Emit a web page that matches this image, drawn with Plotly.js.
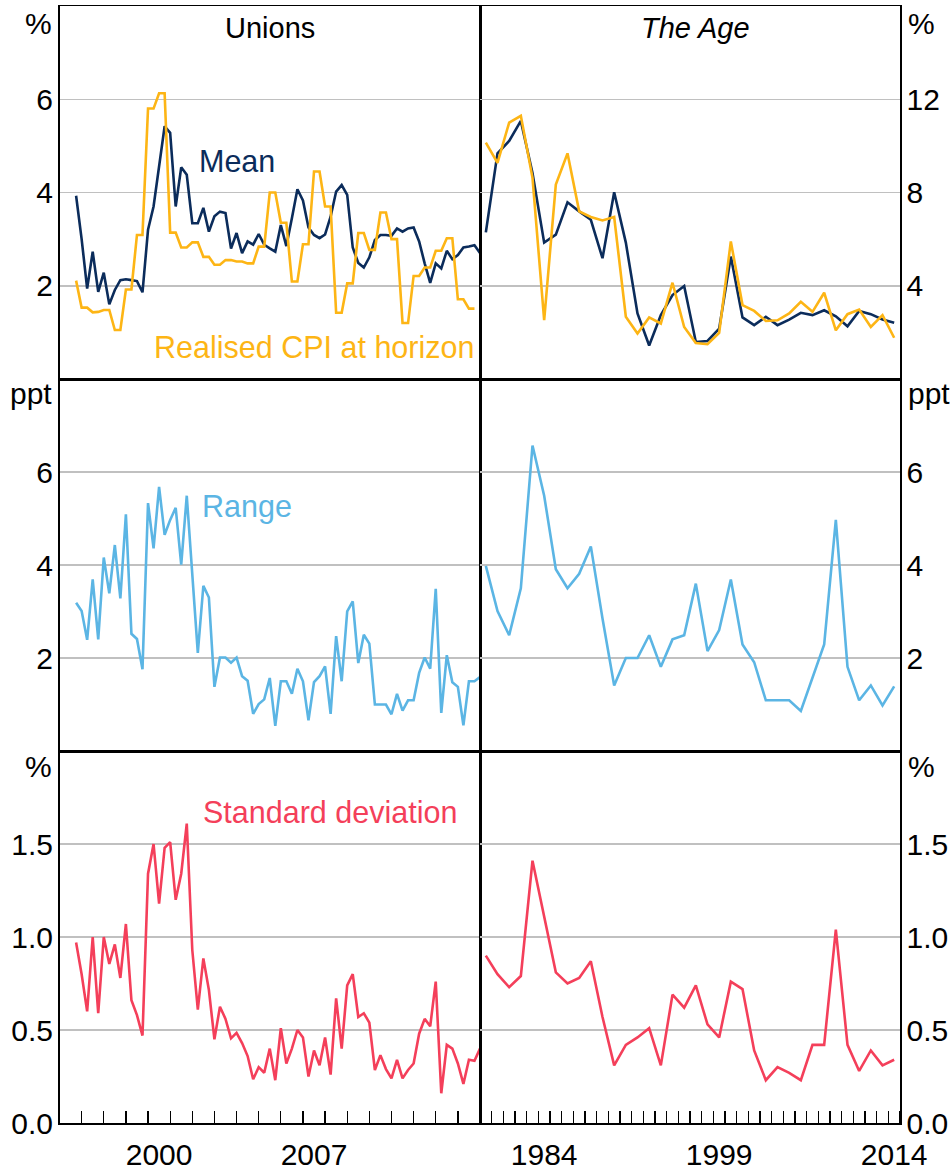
<!DOCTYPE html>
<html><head><meta charset="utf-8">
<script src="https://cdn.plot.ly/plotly-3.0.1.min.js"></script>
<style>html,body{margin:0;padding:0;background:#fff}#chart{width:952px;height:1169px}</style>
</head><body><div id="chart"></div>
<script>
// ---------- DATA ----------
// Unions: quarterly, first observation at end of Q3 1996
const unionsFirstQuarter = 1996.75;
const unionsMean = [3.93,3.0,1.94,2.73,1.87,2.28,1.60,1.91,2.12,2.14,2.12,2.10,1.86,3.20,3.70,4.60,5.42,5.28,3.70,4.54,
  4.38,3.34,3.34,3.67,3.16,3.49,3.59,3.56,2.80,3.13,2.70,2.95,2.88,3.11,2.88,2.80,2.73,3.30,2.85,3.45,
  4.07,3.83,3.25,3.09,3.02,3.10,3.48,4.02,4.16,3.95,2.82,2.49,2.39,2.61,2.98,3.09,3.09,3.07,3.23,3.16,
  3.23,3.25,2.95,2.48,2.06,2.48,2.37,2.75,2.57,2.66,2.82,2.84,2.87,2.70];
const unionsCPI = [2.11,1.53,1.53,1.43,1.44,1.48,1.48,1.05,1.05,1.92,1.92,3.09,3.09,5.80,5.80,6.13,6.13,3.14,3.14,2.82,
  2.82,2.93,2.93,2.62,2.62,2.45,2.45,2.55,2.55,2.52,2.52,2.48,2.48,2.84,2.84,4.00,4.00,3.35,3.35,2.09,
  2.09,2.89,2.89,4.45,4.45,3.70,3.70,1.42,1.42,2.05,2.05,3.13,3.13,2.77,2.77,3.57,3.57,3.00,3.00,1.20,
  1.20,2.21,2.21,2.39,2.39,2.75,2.75,3.02,3.02,1.71,1.71,1.51,1.51];
const unionsRange = [3.19,3.01,2.39,3.69,2.40,4.16,3.39,4.43,3.28,5.09,2.52,2.41,1.76,5.33,4.36,5.68,4.65,4.97,5.23,4.01,
  5.49,3.90,2.11,3.55,3.30,1.38,2.01,2.01,1.90,2.01,1.61,1.51,0.80,1.01,1.11,1.57,0.54,1.50,1.50,1.23,
  1.77,1.50,0.66,1.48,1.61,1.82,0.80,2.47,1.50,3.00,3.22,1.89,2.50,2.31,1.00,1.00,1.00,0.79,1.23,0.87,
  1.09,1.09,1.68,2.01,1.77,3.49,0.82,2.06,1.48,1.38,0.55,1.50,1.50,1.59];
const unionsStd = [0.97,0.80,0.60,1.00,0.59,1.00,0.855,0.96,0.78,1.07,0.66,0.58,0.47,1.34,1.50,1.18,1.48,1.51,1.20,1.34,
  1.61,0.93,0.61,0.885,0.715,0.45,0.625,0.56,0.455,0.485,0.43,0.36,0.235,0.30,0.27,0.40,0.23,0.51,0.32,0.40,
  0.50,0.46,0.25,0.39,0.31,0.46,0.26,0.67,0.40,0.74,0.80,0.57,0.59,0.54,0.285,0.365,0.29,0.24,0.34,0.24,
  0.285,0.32,0.48,0.56,0.52,0.76,0.16,0.42,0.40,0.32,0.21,0.34,0.335,0.40];

// The Age: annual
const ageYears = [1979,1980,1981,1982,1983,1984,1985,1986,1987,1988,1989,1990,1991,1992,1993,1994,1995,1996,
  1997,1998,1999,2000,2001,2002,2003,2004,2005,2006,2007,2008,2009,2010,2011,2012,2013,2014];
const ageMean = [6.29,9.68,10.21,11.07,8.84,5.85,6.19,7.58,7.19,6.83,5.18,8.01,5.85,2.81,1.44,2.74,3.60,3.99,
  1.59,1.63,2.16,5.25,2.64,2.31,2.67,2.31,2.55,2.84,2.74,2.95,2.69,2.26,2.92,2.78,2.55,2.41];
const ageCPI = [10.14,9.27,11.0,11.29,8.63,2.52,8.34,9.68,7.19,6.95,6.80,6.95,2.67,1.95,2.64,2.38,4.13,2.23,
  1.54,1.49,1.98,5.90,3.17,2.92,2.49,2.52,2.81,3.31,2.88,3.70,2.09,2.78,2.98,2.23,2.74,1.77];
const ageRange = [3.98,3.01,2.49,3.50,6.57,5.49,3.91,3.50,3.81,4.40,2.85,1.41,2.00,2.00,2.49,1.81,2.40,2.49,
  3.60,2.15,2.60,3.69,2.29,1.91,1.09,1.09,1.09,0.86,1.59,2.29,4.97,1.81,1.09,1.41,0.98,1.39];
const ageStd = [0.90,0.80,0.73,0.79,1.41,1.11,0.81,0.75,0.78,0.87,0.57,0.31,0.42,0.46,0.51,0.31,0.69,0.62,
  0.74,0.53,0.46,0.76,0.72,0.39,0.23,0.30,0.27,0.23,0.42,0.42,1.04,0.42,0.28,0.39,0.31,0.34];

// Tick labels
const unionsTickYears = ['2000','2007'];
const ageTickYears = ['1984','1999','2014'];
const row1LeftTicks = [2,4,6], row1RightTicks = [4,8,12];
const row2Ticks = [2,4,6];
const row3Ticks = [0,0.5,1.0,1.5], row3TickText = ['0.0','0.5','1.0','1.5'];

// ---------- STYLE ----------
const C = {navy:'#0B2C5B', orange:'#FDB515', blue:'#5BB5E4', red:'#F43F5A', grid:'#C0C0C0'};
const FONT = 'Liberation Sans, Arial, sans-serif';
const FS = 30;       // tick labels and units
const FS_LAB = 30.5; // series labels
const FS_TITLE = 29; // panel titles
const W = 952, H = 1169;
const py = v => 1 - v / H;
const xL = [59.5 / W, 480 / W], xR = [480 / W, 900 / W];
const rows = [[py(379), py(6)], [py(751), py(379)], [py(1123), py(751)]];

const ux = unionsMean.map((_, i) => unionsFirstQuarter + 0.25 * i);
const ax = ageYears.map(y => y + 0.5);

function line(x, y, color, xa, ya) {
  return {x, y, type:'scatter', mode:'lines', line:{color, width:2.6}, xaxis:xa, yaxis:ya, hoverinfo:'skip'};
}
const data = [
  line(ux, unionsMean, C.navy, 'x', 'y'),
  line(ux.slice(0, unionsCPI.length), unionsCPI, C.orange, 'x', 'y'),
  line(ax, ageMean, C.navy, 'x2', 'y2'),
  line(ax, ageCPI, C.orange, 'x2', 'y2'),
  line(ux, unionsRange, C.blue, 'x3', 'y3'),
  line(ax, ageRange, C.blue, 'x4', 'y4'),
  line(ux, unionsStd, C.red, 'x5', 'y5'),
  line(ax, ageStd, C.red, 'x6', 'y6'),
];

const frame = {showline:true, linecolor:'#000', linewidth:1.5, mirror:true, zeroline:false, fixedrange:true};
function xaxis(dom, range, anchor, labels) {
  const a = Object.assign({}, frame, {domain:dom, range, anchor, showgrid:false});
  if (labels) {
    a.tickmode = 'array';
    a.tickvals = labels.map(s => +s + 0.5);
    a.ticktext = labels;
    a.ticks = '';
    a.tickfont = {family:FONT, size:FS, color:'#000'};
    a.ticklabelstandoff = 4;
    a.minor = {ticks:'inside', ticklen:12, tickwidth:1.3, tickcolor:'#000', tickmode:'linear', tick0:range[0], dtick:1, showgrid:false};
  } else {
    a.showticklabels = false; a.ticks = '';
  }
  return a;
}
function yaxis(dom, range, anchor, side, vals, text) {
  return Object.assign({}, frame, {domain:dom, range, anchor, side,
    tickmode:'array', tickvals:vals, ticktext:text || vals.map(String), ticks:'',
    showgrid:true, gridcolor:C.grid, gridwidth:1.5,
    tickfont:{family:FONT, size:FS, color:'#000'}, ticklabelstandoff:-1});
}
const uRange = [1996, 2015], aRange = [1979, 2015];

const layout = {
  width:W, height:H, margin:{l:0, r:0, t:0, b:0}, paper_bgcolor:'#fff', plot_bgcolor:'#fff',
  showlegend:false, font:{family:FONT, size:FS, color:'#000'},
  xaxis: xaxis(xL, uRange, 'y'),
  xaxis2: xaxis(xR, aRange, 'y2'),
  xaxis3: xaxis(xL, uRange, 'y3'),
  xaxis4: xaxis(xR, aRange, 'y4'),
  xaxis5: xaxis(xL, uRange, 'y5', unionsTickYears),
  xaxis6: xaxis(xR, aRange, 'y6', ageTickYears),
  yaxis: yaxis(rows[0], [0, 8], 'x', 'left', row1LeftTicks),
  yaxis2: yaxis(rows[0], [0, 16], 'x2', 'right', row1RightTicks),
  yaxis3: yaxis(rows[1], [0, 8], 'x3', 'left', row2Ticks),
  yaxis4: yaxis(rows[1], [0, 8], 'x4', 'right', row2Ticks),
  yaxis5: yaxis(rows[2], [0, 2], 'x5', 'left', row3Ticks, row3TickText),
  yaxis6: yaxis(rows[2], [0, 2], 'x6', 'right', row3Ticks, row3TickText),
  annotations: []
};
function ann(text, x, y, xanchor, color, size) {
  layout.annotations.push({text, x:x / W, y:py(y), xref:'paper', yref:'paper',
    xanchor, yanchor:'middle', showarrow:false, font:{family:FONT, size:size, color}});
}
// unit labels
ann('%', 54, 24, 'right', '#000', FS);
ann('ppt', 54, 394, 'right', '#000', FS);
ann('%', 54, 766, 'right', '#000', FS);
ann('%', 906, 24, 'left', '#000', FS);
ann('ppt', 906, 394, 'left', '#000', FS);
ann('%', 906, 766, 'left', '#000', FS);
// panel titles
ann('Unions', 269.5, 28, 'center', '#000', FS_TITLE);
ann('<i>The Age</i>', 695, 28, 'center', '#000', FS_TITLE);
// series labels
ann('Mean', 197, 161, 'left', C.navy, FS_LAB);
ann('Realised CPI at horizon', 152, 347, 'left', C.orange, FS_LAB);
ann('Range', 200, 506, 'left', C.blue, FS_LAB);
ann('Standard deviation', 201, 812, 'left', C.red, FS_LAB);

Plotly.newPlot('chart', data, layout, {staticPlot:true});
</script></body></html>
